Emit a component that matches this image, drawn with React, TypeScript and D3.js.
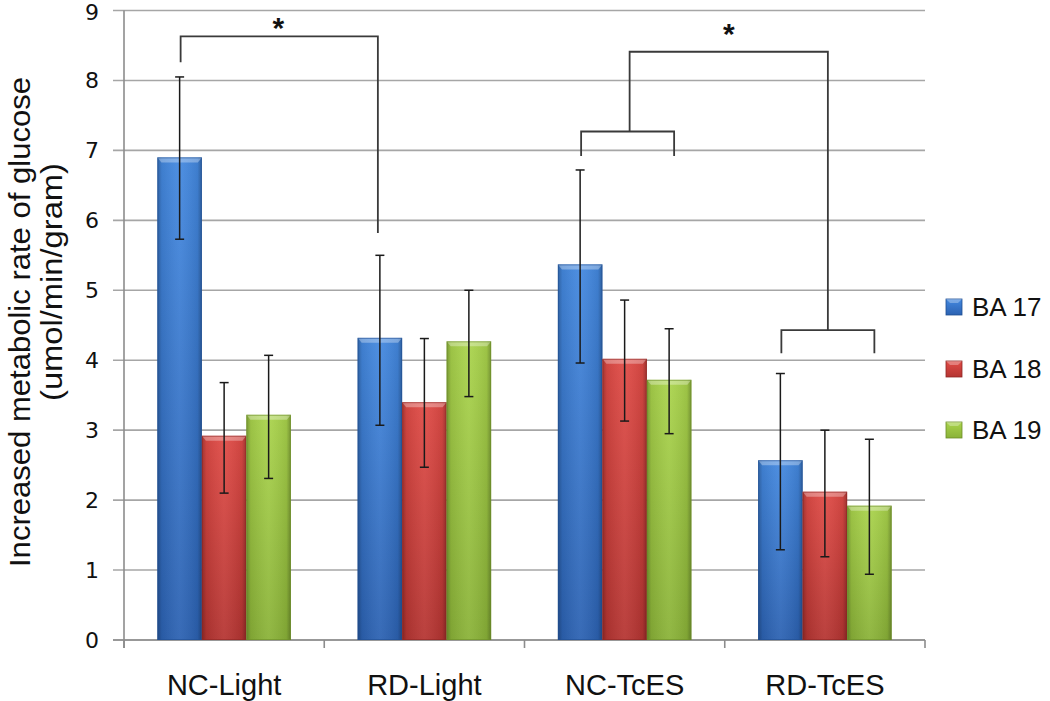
import React from "react";
import * as d3 from "d3";

const categories = ["NC-Light", "RD-Light", "NC-TcES", "RD-TcES"];
const seriesNames = ["BA 17", "BA 18", "BA 19"];
const ba17 = [6.9, 4.32, 5.37, 2.57];
const ba18 = [2.92, 3.4, 4.02, 2.12];
const ba19 = [3.22, 4.27, 3.72, 1.92];
const ba17Low = [5.73, 3.07, 3.96, 1.29];
const ba17High = [8.05, 5.5, 6.72, 3.81];
const ba18Low = [2.1, 2.47, 3.13, 1.19];
const ba18High = [3.68, 4.31, 4.86, 3.0];
const ba19Low = [2.31, 3.48, 2.95, 0.94];
const ba19High = [4.07, 5.0, 4.45, 2.87];
const yTicks = [0, 1, 2, 3, 4, 5, 6, 7, 8, 9];

const seriesValues = [ba17, ba18, ba19];
const seriesLow = [ba17Low, ba18Low, ba19Low];
const seriesHigh = [ba17High, ba18High, ba19High];

const colors = [
  { top: "#4489e0", bottom: "#2c62b2", edge: "#1f4e92" },
  { top: "#e04b46", bottom: "#b53532", edge: "#8e2623" },
  { top: "#aad44c", bottom: "#8ab238", edge: "#6b8d27" },
];

const W = 1050;
const H = 701;
const plotLeft = 124;
const plotRight = 925;
const plotTop = 10.5;
const plotBottom = 640;

export default function App() {
  const x0 = d3.scaleBand<string>().domain(categories).range([plotLeft, plotRight]).paddingInner(0).paddingOuter(0);
  const x1 = d3
    .scaleBand<string>()
    .domain(seriesNames)
    .range([0, x0.bandwidth()])
    .paddingInner(0)
    .paddingOuter(0.75);
  const y = d3.scaleLinear().domain([0, 9]).range([plotBottom, plotTop]);
  const bw = x1.bandwidth();
  const cx = (c: string, s: string) => (x0(c) as number) + (x1(s) as number) + bw / 2;

  const bars: JSX.Element[] = [];
  const errs: JSX.Element[] = [];
  categories.forEach((c, ci) => {
    seriesNames.forEach((s, si) => {
      const v = seriesValues[si][ci];
      const bx = (x0(c) as number) + (x1(s) as number);
      const by = y(v);
      const bh = plotBottom - by;
      bars.push(
        <g key={`b-${ci}-${si}`}>
          <rect x={bx} y={by} width={bw} height={bh} fill={`url(#vg${si})`} />
          <rect x={bx} y={by} width={bw} height={bh} fill="url(#hedge)" />
          <path
            d={`M${bx},${by} L${bx + bw},${by} L${bx + bw - 4},${by + 5} L${bx + 4},${by + 5} Z`}
            fill="#ffffff"
            opacity={0.32}
          />
          <rect x={bx + 0.5} y={by + 0.5} width={bw - 1} height={bh - 1} fill="none" stroke={colors[si].edge} strokeWidth={1} opacity={0.6} />
        </g>
      );
      const ex = bx + bw / 2;
      const yl = y(seriesLow[si][ci]);
      const yh = y(seriesHigh[si][ci]);
      errs.push(
        <g key={`e-${ci}-${si}`} stroke="#1a1a1a" strokeWidth={1.5}>
          <line x1={ex} x2={ex} y1={yh} y2={yl} />
          <line x1={ex - 4.5} x2={ex + 4.5} y1={yh} y2={yh} />
          <line x1={ex - 4.5} x2={ex + 4.5} y1={yl} y2={yl} />
        </g>
      );
    });
  });

  // significance brackets
  const b1L = cx("NC-Light", "BA 17") + 1;
  const b1R = cx("RD-Light", "BA 17") - 2;
  const sub1L = cx("NC-TcES", "BA 17") + 1;
  const sub1R = cx("NC-TcES", "BA 19") + 5;
  const sub2L = cx("RD-TcES", "BA 17") + 1;
  const sub2R = cx("RD-TcES", "BA 19") + 5;
  const sub1M = (sub1L + sub1R) / 2 + 2;
  const sub2M = (sub2L + sub2R) / 2;

  const bracketPaths = [
    `M${b1L},${y(8.26)} L${b1L},${y(8.63)} L${b1R},${y(8.63)} L${b1R},${y(5.82)}`,
    `M${sub1L},${y(6.92)} L${sub1L},${y(7.27)} L${sub1R},${y(7.27)} L${sub1R},${y(6.92)}`,
    `M${sub2L},${y(4.1)} L${sub2L},${y(4.43)} L${sub2R},${y(4.43)} L${sub2R},${y(4.1)}`,
    `M${sub1M},${y(7.27)} L${sub1M},${y(8.41)} L${sub2M},${y(8.41)} L${sub2M},${y(4.43)}`,
  ];

  const legendY = [307, 369, 430];

  return (
    <svg
      width={W}
      height={H}
      style={{ position: "absolute", left: 0, top: 0, background: "#ffffff" }}
      fontFamily="Liberation Sans, Arial, sans-serif"
    >
      <defs>
        {colors.map((c, i) => (
          <linearGradient key={i} id={`vg${i}`} x1="0" y1="0" x2="0" y2="1">
            <stop offset="0" stopColor={c.top} />
            <stop offset="1" stopColor={c.bottom} />
          </linearGradient>
        ))}
        <linearGradient id="hedge" x1="0" y1="0" x2="1" y2="0">
          <stop offset="0" stopColor="#000" stopOpacity={0.28} />
          <stop offset="0.1" stopColor="#000" stopOpacity={0.08} />
          <stop offset="0.5" stopColor="#fff" stopOpacity={0.06} />
          <stop offset="0.9" stopColor="#000" stopOpacity={0.08} />
          <stop offset="1" stopColor="#000" stopOpacity={0.3} />
        </linearGradient>
      </defs>
      <rect x={0} y={0} width={W} height={H} fill="#ffffff" />

      {/* gridlines */}
      {yTicks.map((t) => (
        <line key={`g${t}`} x1={113} x2={plotRight} y1={y(t)} y2={y(t)} stroke="#a6a6a6" strokeWidth={1.6} />
      ))}
      {/* axes */}
      <line x1={plotLeft} x2={plotLeft} y1={y(9)} y2={plotBottom + 8} stroke="#8c8c8c" strokeWidth={1.6} />
      <line x1={113} x2={plotRight} y1={plotBottom} y2={plotBottom} stroke="#8c8c8c" strokeWidth={1.6} />
      {categories.map((c) => (
        <line key={`xt${c}`} x1={x0(c) as number} x2={x0(c) as number} y1={plotBottom} y2={plotBottom + 8} stroke="#8c8c8c" strokeWidth={1.6} />
      ))}
      <line x1={plotRight} x2={plotRight} y1={plotBottom} y2={plotBottom + 8} stroke="#8c8c8c" strokeWidth={1.6} />

      {bars}
      {errs}

      {bracketPaths.map((d, i) => (
        <path key={`br${i}`} d={d} fill="none" stroke="#3a3a3a" strokeWidth={1.8} />
      ))}
      <text x={(b1L + b1R) / 2 - 1} y={38} textAnchor="middle" fontSize={30} fontWeight="bold" fill="#111">*</text>
      <text x={(sub1M + sub2M) / 2} y={44} textAnchor="middle" fontSize={30} fontWeight="bold" fill="#111">*</text>

      {/* y tick labels */}
      {yTicks.map((t) => (
        <text
          key={`yl${t}`}
          x={99}
          y={Math.max(y(t), 12)}
          dy="0.36em"
          textAnchor="end"
          fontSize={22}
          fontFamily="DejaVu Sans, Verdana, sans-serif"
          fill="#111"
        >
          {t}
        </text>
      ))}

      {/* x labels */}
      {categories.map((c) => (
        <text
          key={`xl${c}`}
          x={(x0(c) as number) + x0.bandwidth() / 2}
          y={695}
          textAnchor="middle"
          fontSize={29}
          fill="#111"
        >
          {c}
        </text>
      ))}

      {/* y title */}
      <text
        transform={`translate(30,322) rotate(-90)`}
        textAnchor="middle"
        fontSize={29}
        fill="#111"
        textLength={490}
        lengthAdjust="spacingAndGlyphs"
      >
        Increased metabolic rate of glucose
      </text>
      <text
        transform={`translate(62,282) rotate(-90)`}
        textAnchor="middle"
        fontSize={29}
        fill="#111"
        textLength={238}
        lengthAdjust="spacingAndGlyphs"
      >
        (umol/min/gram)
      </text>

      {/* legend */}
      {seriesNames.map((s, i) => (
        <g key={`lg${s}`}>
          <rect x={946} y={legendY[i] - 8} width={16} height={16} fill={`url(#vg${i})`} stroke={colors[i].edge} strokeWidth={0.8} />
          <path
            d={`M946,${legendY[i] - 8} L962,${legendY[i] - 8} L958,${legendY[i] - 4} L950,${legendY[i] - 4} Z`}
            fill="#fff"
            opacity={0.3}
          />
          <text x={972} y={legendY[i]} dy="0.36em" fontSize={26} fill="#111">
            {s}
          </text>
        </g>
      ))}
    </svg>
  );
}
